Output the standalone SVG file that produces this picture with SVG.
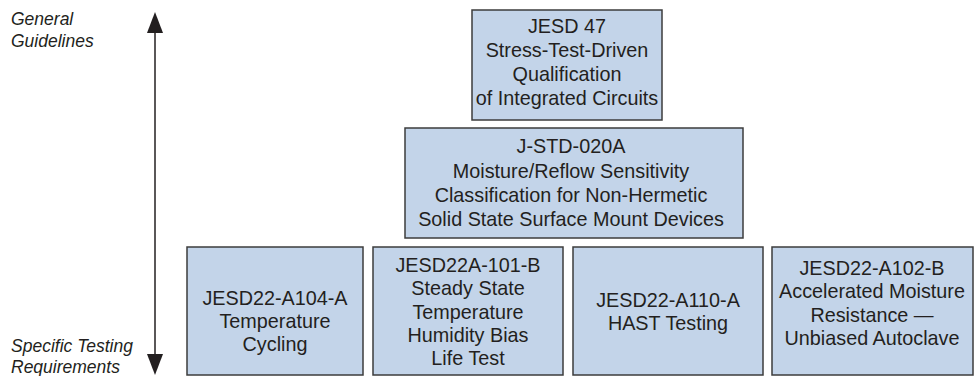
<svg xmlns="http://www.w3.org/2000/svg" width="978" height="376" viewBox="0 0 978 376">
<defs>
<style>
.box{fill:#c3d4e9;stroke:#3c3c3c;stroke-width:1.5}
.t{font-family:"Liberation Sans",Arial,sans-serif;font-size:19.8px;fill:#231f20;text-anchor:middle}
.lbl{font-family:"Liberation Sans",Arial,sans-serif;font-size:17.5px;font-style:italic;fill:#231f20}
.axis{stroke:#231f20;stroke-width:1.5;fill:none}
</style>
<marker id="ah" viewBox="0 0 21 16" refX="0" refY="8" markerWidth="21" markerHeight="16" markerUnits="userSpaceOnUse" orient="auto-start-reverse">
<path d="M0,0 L21,8 L0,16 z" fill="#231f20"/>
</marker>
</defs>
<rect width="978" height="376" fill="#ffffff"/>
<g id="connectors">
<line class="axis" x1="155" y1="33" x2="155" y2="354" marker-start="url(#ah)" marker-end="url(#ah)"/>
</g>
<g id="label-general">
<text class="lbl" x="11" y="25">General</text>
<text class="lbl" x="11" y="47">Guidelines</text>
</g>
<g id="label-specific">
<text class="lbl" x="11" y="352">Specific Testing</text>
<text class="lbl" x="11" y="373">Requirements</text>
</g>
<g id="jesd47">
<rect class="box" x="472" y="10" width="190" height="110"/>
<text class="t" x="567" y="33">JESD 47</text>
<text class="t" x="567" y="57">Stress-Test-Driven</text>
<text class="t" x="567" y="81">Qualification</text>
<text class="t" x="567" y="105">of Integrated Circuits</text>
</g>
<g id="jstd020a">
<rect class="box" x="405" y="128" width="338" height="110"/>
<text class="t" x="571" y="153">J-STD-020A</text>
<text class="t" x="571" y="178">Moisture/Reflow Sensitivity</text>
<text class="t" x="571" y="202">Classification for Non-Hermetic</text>
<text class="t" x="571" y="226">Solid State Surface Mount Devices</text>
</g>
<g id="a104">
<rect class="box" x="187" y="247" width="176" height="128"/>
<text class="t" x="275" y="305">JESD22-A104-A</text>
<text class="t" x="275" y="328">Temperature</text>
<text class="t" x="275" y="351">Cycling</text>
</g>
<g id="a101">
<rect class="box" x="373" y="247" width="190" height="128"/>
<text class="t" x="468" y="272">JESD22A-101-B</text>
<text class="t" x="468" y="295">Steady State</text>
<text class="t" x="468" y="319">Temperature</text>
<text class="t" x="468" y="342">Humidity Bias</text>
<text class="t" x="468" y="365">Life Test</text>
</g>
<g id="a110">
<rect class="box" x="573" y="247" width="190" height="128"/>
<text class="t" x="668" y="307">JESD22-A110-A</text>
<text class="t" x="668" y="330">HAST Testing</text>
</g>
<g id="a102">
<rect class="box" x="772" y="247" width="201" height="128"/>
<text class="t" x="872" y="275">JESD22-A102-B</text>
<text class="t" x="872" y="298">Accelerated Moisture</text>
<text class="t" x="872" y="322">Resistance —</text>
<text class="t" x="872" y="345">Unbiased Autoclave</text>
</g>
</svg>
